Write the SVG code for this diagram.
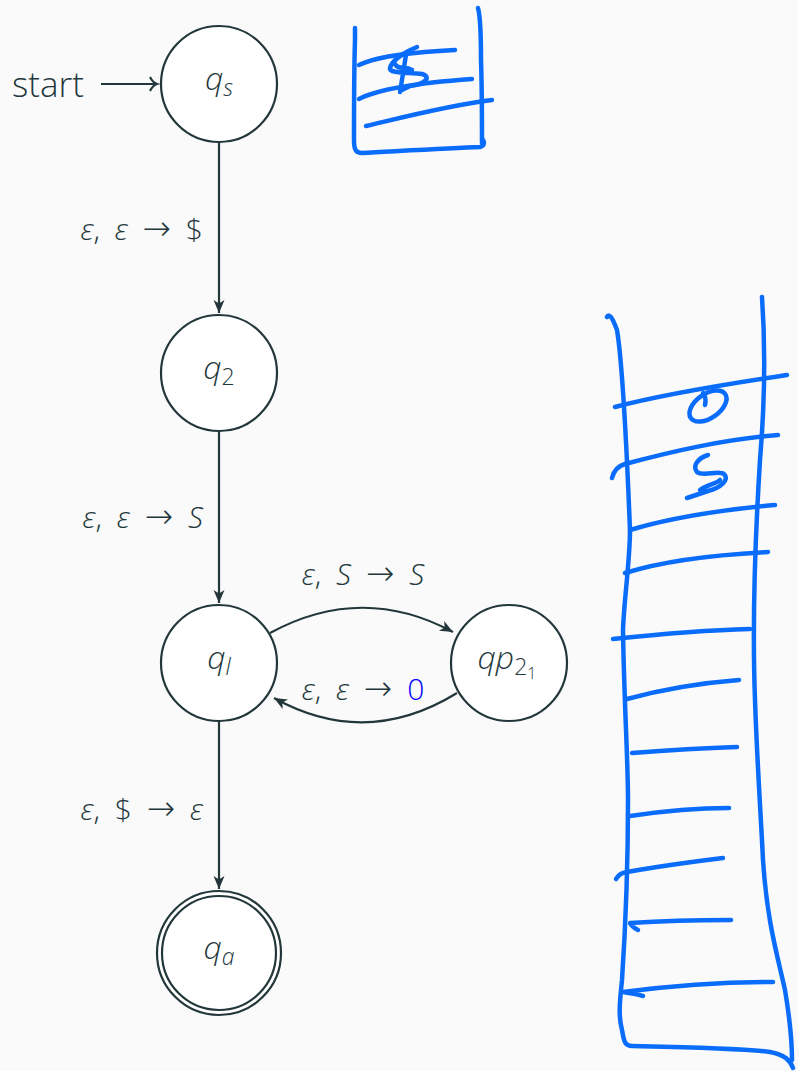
<svg xmlns="http://www.w3.org/2000/svg" width="798" height="1071" viewBox="0 0 798 1071">
<style>
.bg{fill:#fafafa}
.node circle{fill:#ffffff;stroke:#23373b;stroke-width:2.2}
.edge{fill:none;stroke:#23373b;stroke-width:2.2}
.t{font-family:"Open Sans","Liberation Sans",sans-serif;fill:#23373b}
.lbl{font-size:30px;font-weight:300;word-spacing:7px}
.ar{font-family:"DejaVu Sans",sans-serif;font-size:34px;font-weight:200}
.nl{font-size:32px;font-style:italic;font-weight:300;text-anchor:middle}
.i{font-style:italic}
.ink{fill:none;stroke:#0a6cfa;stroke-width:4.5;stroke-linecap:round;stroke-linejoin:round}
</style>
<defs>
<marker id="ah" markerUnits="userSpaceOnUse" markerWidth="14" markerHeight="12" refX="13" refY="5.5" orient="auto">
<path d="M0,0 L13,5.5 L0,11 L3.5,5.5 z" fill="#23373b"/>
</marker>
</defs>
<rect class="bg" x="0" y="0" width="798" height="1071"/>

<g id="connectors">
<path class="edge" d="M219,142 L219,313" marker-end="url(#ah)"/>
<path class="edge" d="M219,431 L219,603" marker-end="url(#ah)"/>
<path class="edge" d="M219,721 L219,889" marker-end="url(#ah)"/>
<path class="edge" d="M270,633 Q362,583 453,632" marker-end="url(#ah)"/>
<path class="edge" d="M457,693 Q366,749 274,698" marker-end="url(#ah)"/>
<path class="edge" d="M101,84 L157,84 M150,77 C152,81 154,83 157,84 C154,85 152,87 150,91"/>
<text class="t lbl" x="203" y="240" text-anchor="end"><tspan class="i">ε</tspan>, <tspan class="i">ε</tspan> <tspan class="ar">→</tspan> $</text>
<text class="t lbl" x="203" y="528" text-anchor="end"><tspan class="i">ε</tspan>, <tspan class="i">ε</tspan> <tspan class="ar">→</tspan> <tspan class="i">S</tspan></text>
<text class="t lbl" x="203" y="820" text-anchor="end"><tspan class="i">ε</tspan>, $ <tspan class="ar">→</tspan> <tspan class="i">ε</tspan></text>
<text class="t lbl" x="363" y="585" text-anchor="middle"><tspan class="i">ε</tspan>, <tspan class="i">S</tspan> <tspan class="ar">→</tspan> <tspan class="i">S</tspan></text>
<text class="t lbl" x="363" y="700" text-anchor="middle"><tspan class="i">ε</tspan>, <tspan class="i">ε</tspan> <tspan class="ar">→</tspan> <tspan fill="#0000ff">0</tspan></text>
</g>

<g id="start-label">
<text class="t" x="12" y="97" font-size="35" font-weight="300">start</text>
</g>

<g id="qs" class="node">
<circle cx="219" cy="84" r="58"/>
<text class="t nl" x="219" y="90">q<tspan font-size="23" dy="6">s</tspan></text>
</g>
<g id="q2" class="node">
<circle cx="219" cy="373" r="58"/>
<text class="t nl" x="219" y="379">q<tspan font-size="23" dy="6" font-style="normal">2</tspan></text>
</g>
<g id="ql" class="node">
<circle cx="219" cy="663" r="58"/>
<text class="t nl" x="219" y="669">q<tspan font-size="23" dy="6">l</tspan></text>
</g>
<g id="qp21" class="node">
<circle cx="509" cy="663" r="58"/>
<text class="t nl" x="507" y="669">qp<tspan font-size="23" dy="6" font-style="normal">2</tspan><tspan font-size="16" dy="4" font-style="normal">1</tspan></text>
</g>
<g id="qa" class="node">
<circle cx="219" cy="953" r="62"/>
<circle cx="219" cy="953" r="57"/>
<text class="t nl" x="219" y="959">q<tspan font-size="23" dy="6">a</tspan></text>
</g>

<g id="small-stack">
<path class="ink" d="M355,28 L355,40 C354,70 354,110 354,140 C354,150 356,153 362,153 C400,151 450,148 480,147 C484,146 485,143 483,140"/>
<path class="ink" d="M478,8 C480,15 481,30 481,60 C482,90 482,120 482,143"/>
<path class="ink" d="M359,65 C380,55 420,52 455,50"/>
<path class="ink" d="M359,99 C380,88 430,82 472,79"/>
<path class="ink" d="M366,126 C400,118 450,105 492,100"/>
<path class="ink" stroke-width="6" d="M417,47 C405,52 392,60 390,68 C389,74 410,72 422,74 C432,77 425,84 410,86 L402,90 M406,55 L400,92 M395,64 C398,70 405,66 412,70"/>
</g>

<g id="big-stack">
<path class="ink" d="M607,317 C610,312 614,322 617,330 C622,360 626,430 630,530 C630,560 624,600 623,630 C624,700 628,760 628,800 C628,870 626,920 622,980 C620,1000 618,1015 622,1030 C624,1040 624,1046 632,1046 C680,1047 740,1048 770,1052 C785,1055 790,1060 793,1068"/>
<path class="ink" d="M762,297 C765,340 765,400 760,460 C755,540 752,620 755,700 C757,760 760,800 763,860 C767,920 776,950 785,990 C790,1020 792,1040 792,1060"/>
<path class="ink" d="M615,407 C660,395 720,385 787,375"/>
<path class="ink" d="M612,478 C614,470 618,466 625,464 C670,452 720,440 778,435"/>
<path class="ink" d="M630,530 C670,518 720,510 775,505"/>
<path class="ink" d="M625,573 C660,562 710,555 768,552"/>
<path class="ink" d="M613,639 C660,634 710,630 750,629"/>
<path class="ink" d="M627,699 C660,690 700,683 739,680"/>
<path class="ink" d="M632,753 C670,750 705,748 737,747"/>
<path class="ink" d="M630,816 C670,810 700,808 729,808"/>
<path class="ink" d="M616,879 C619,874 622,873 627,872 C660,866 690,862 723,858"/>
<path class="ink" d="M638,930 C634,928 631,925 630,923 C660,921 700,920 731,920"/>
<path class="ink" d="M643,996 C636,994 630,993 623,992 C670,986 720,982 773,982"/>
<ellipse class="ink" cx="708" cy="406" rx="21" ry="12" transform="rotate(-35 708 406)"/>
<path class="ink" d="M703,393 C706,397 706,401 705,405"/>
<path class="ink" stroke-width="5.5" d="M708,455 C698,458 692,466 697,472 C703,477 718,470 724,474 C730,480 720,488 708,491 L687,498 M700,490 C708,484 716,484 720,480"/>
</g>
</svg>
